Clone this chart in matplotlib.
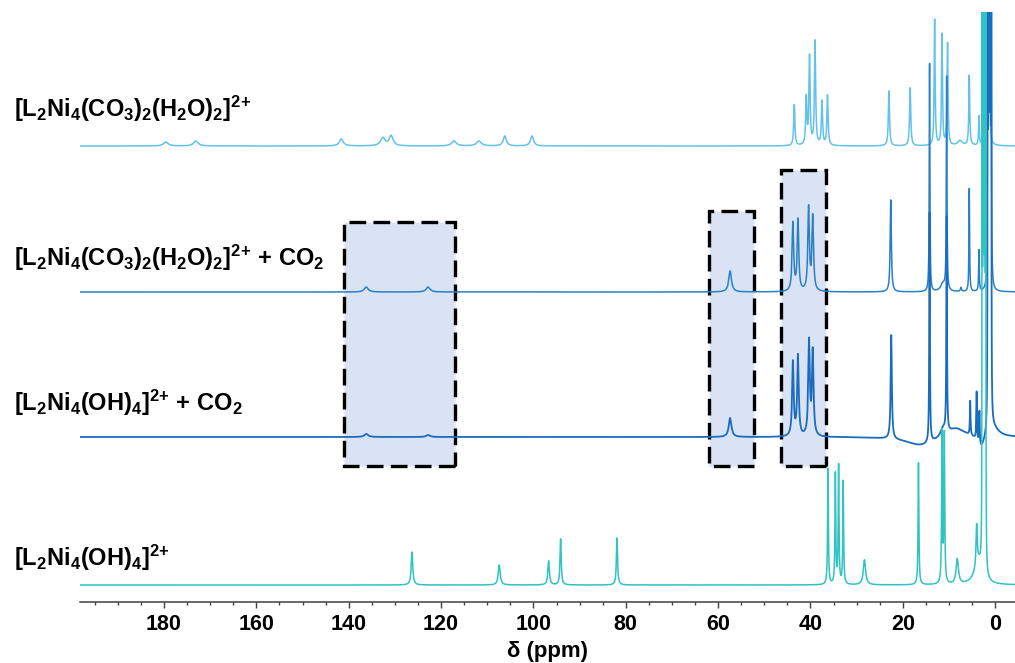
import numpy as np
import matplotlib
matplotlib.use('Agg')
from matplotlib import pyplot as plt
from matplotlib.patches import Rectangle

# peak lists: (shift / ppm, height, half width / ppm)
peaks_co3 = [(179.6, 4, 0.6), (173.1, 5, 0.6), (141.6, 7, 0.5), (132.6, 8, 0.6),
             (130.8, 10, 0.5), (117.2, 5, 0.6), (111.8, 5, 0.6), (106.2, 10, 0.4),
             (100.3, 10, 0.4),
             (43.5, 41, 0.15), (40.9, 47, 0.15), (40.2, 88, 0.15), (39.0, 104, 0.15),
             (37.5, 44, 0.15), (36.3, 50, 0.15), (23.0, 55, 0.15), (18.4, 58, 0.15),
             (13.1, 126, 0.12), (11.5, 111, 0.12), (10.3, 102, 0.12), (7.6, 5, 0.6),
             (5.6, 70, 0.12), (3.5, 29, 0.1)]
# solvent signal, too tall for the plot
solv_co3 = [1.75, 1.6, 1.45, 1.3]

peaks_co3_co2 = [(136.2, 5, 0.5), (122.8, 5, 0.5), (57.4, 21, 0.35),
                 (43.8, 68, 0.2), (42.7, 71, 0.2), (40.4, 83, 0.2), (39.5, 74, 0.2),
                 (22.6, 92, 0.15), (14.2, 228, 0.08), (11.3, 8, 0.6), (10.5, 213, 0.08),
                 (7.4, 4, 0.15), (5.6, 103, 0.08), (3.5, 41, 0.08)]
solv_co3_co2 = [1.6, 1.45, 1.3, 1.15, 1.0, 0.85]

peaks_oh_co2 = [(136.2, 3, 0.5), (122.8, 2, 0.5), (57.4, 19, 0.35),
                (43.8, 74, 0.2), (42.7, 80, 0.2), (40.3, 94, 0.2), (39.5, 84, 0.2),
                (22.5, 104, 0.15), (14.2, 230, 0.08), (11.3, 8, 0.6), (10.5, 215, 0.08),
                (5.4, 34, 0.08), (4.0, 48, 0.08), (3.4, 33, 0.08),
                (16.0, -9, 4.0), (8.5, 10, 2.5), (3.0, -14, 1.0), (0.5, 10, 1.5)]
solv_oh_co2 = [1.6, 1.45, 1.3, 1.15, 1.0, 0.85]

peaks_oh = [(126.3, 33, 0.2), (107.4, 20, 0.25), (96.7, 24, 0.2), (94.1, 46, 0.15),
            (81.9, 47, 0.15),
            (36.2, 116, 0.1), (34.6, 110, 0.1), (33.9, 118, 0.1), (32.9, 103, 0.1),
            (28.3, 25, 0.3), (16.6, 122, 0.1), (11.5, 150, 0.1), (11.0, 148, 0.1),
            (8.2, 25, 0.3), (4.0, 40, 0.15), (3.6, 22, 1.0)]
solv_oh = [2.8, 2.65, 2.5, 2.35, 2.2, 2.05]

labels = [r'$\mathrm{[L_2Ni_4(CO_3)_2(H_2O)_2]^{2{+}}}$',
          r'$\mathrm{[L_2Ni_4(CO_3)_2(H_2O)_2]^{2{+}}\ {+}\ CO_2}$',
          r'$\mathrm{[L_2Ni_4(OH)_4]^{2{+}}\ {+}\ CO_2}$',
          r'$\mathrm{[L_2Ni_4(OH)_4]^{2{+}}}$']

# highlighted regions: ppm from, ppm to, top of box
boxes = [(141.0, 117.0, 380), (61.9, 52.2, 391), (46.3, 36.6, 432)]


def spectrum(ppm, peaks, solvent):
    y = np.zeros_like(ppm)
    for x0, h, w in peaks:
        y += h * w**2 / ((ppm - x0)**2 + w**2)
    for x0 in solvent:
        y += 1000 * 0.03**2 / ((ppm - x0)**2 + 0.03**2)
    return y


def main():
    plt.rcParams['font.family'] = ['Liberation Sans', 'DejaVu Sans']
    plt.rcParams['font.weight'] = 'bold'
    plt.rcParams['mathtext.fontset'] = 'custom'
    plt.rcParams['mathtext.rm'] = 'Liberation Sans:bold'
    plt.rcParams['mathtext.it'] = 'Liberation Sans:bold'
    plt.rcParams['mathtext.bf'] = 'Liberation Sans:bold'

    fig = plt.figure(figsize=(10.15, 6.63), dpi=100)
    ax = fig.add_axes([80/1015, 61/663, 935/1015, 590/663])

    ppm = np.linspace(-4.5, 198.5, 80000)
    offsets = [456, 310, 165, 17]
    colors = ['#62c2ec', '#2a80c6', '#1a6cc0', '#2fc3c2']
    lws = [1.1, 1.1, 1.3, 1.1]
    spectra = [(peaks_co3, solv_co3), (peaks_co3_co2, solv_co3_co2),
               (peaks_oh_co2, solv_oh_co2), (peaks_oh, solv_oh)]

    for a, b, top in boxes:
        ax.add_patch(Rectangle((b, 136), a - b, top - 136, facecolor='#dae3f3',
                               edgecolor='k', lw=2.4, ls=(0, (5, 2.2)), zorder=1))

    for (pk, sv), off, c, lw in zip(spectra, offsets, colors, lws):
        ax.plot(ppm, spectrum(ppm, pk, sv) + off, color=c, lw=lw, zorder=2)

    label_y = [117, 266, 411, 566]
    for txt, yy in zip(labels, label_y):
        fig.text(14/1015, 1 - yy/663, txt, fontsize=17, ha='left', va='baseline')

    ax.set_xlim(198.2, -4.3)
    ax.set_ylim(0, 590)
    ax.set_xticks(np.arange(0, 181, 20))
    ax.set_xticks(np.arange(-0, 196, 5), minor=True)
    ax.tick_params(axis='x', which='major', length=4, width=1, labelsize=15.5, pad=5,
                   color='#404040')
    ax.tick_params(axis='x', which='minor', length=2.5, width=1, color='#404040')
    ax.set_yticks([])
    for s in ['left', 'right', 'top']:
        ax.spines[s].set_visible(False)
    ax.spines['bottom'].set_color('#404040')
    ax.spines['bottom'].set_linewidth(1.1)
    ax.set_xlabel('δ (ppm)', fontsize=16, fontweight='bold', labelpad=4)

    plt.savefig('out.png', dpi=100)


if __name__ == "__main__":
    main()
